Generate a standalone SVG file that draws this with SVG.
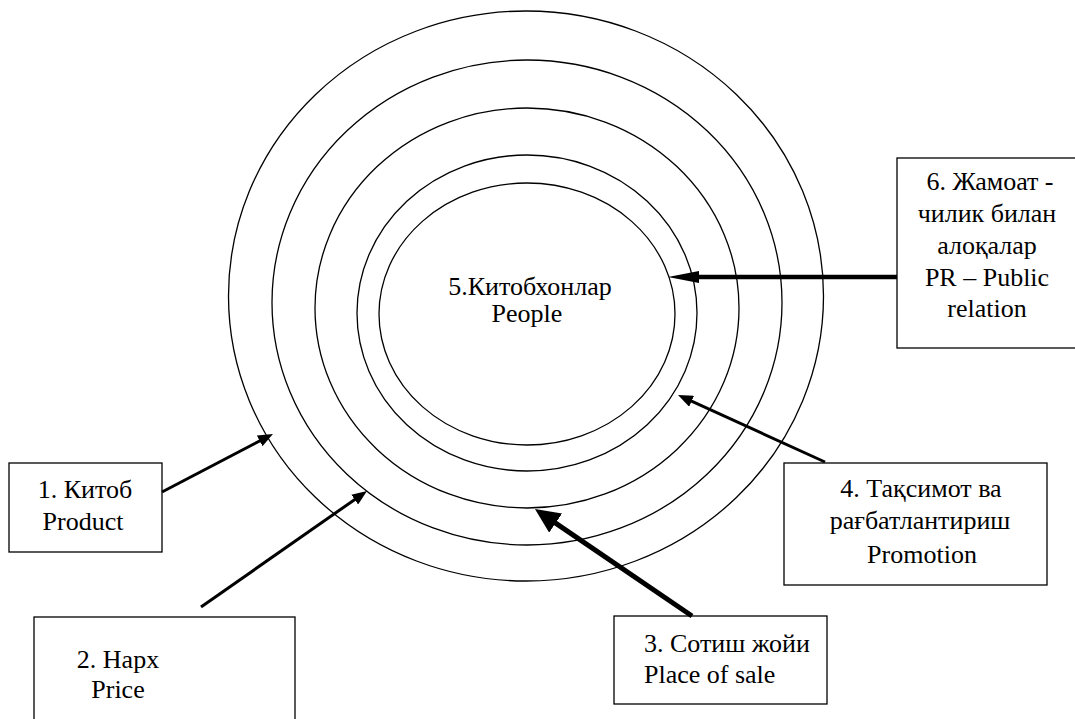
<svg xmlns="http://www.w3.org/2000/svg" width="1075" height="719" viewBox="0 0 1075 719">
<style>
.ring{fill:none;stroke:#000;stroke-width:1.3}
.box{fill:#fff;stroke:#000;stroke-width:1.3}
text{font-family:'Times New Roman','Liberation Serif',Tinos,'DejaVu Serif',serif;font-size:26px;fill:#000}
.c{text-anchor:middle}
.arr{stroke:#000;fill:none}
</style>
<defs>
<marker id="head" markerUnits="userSpaceOnUse" viewBox="0 0 15 12" markerWidth="15" markerHeight="12" refX="5" refY="6" orient="auto"><path d="M0,0 L15,6 L0,12 z" fill="#000"/></marker>
<marker id="headBig" markerUnits="userSpaceOnUse" viewBox="0 0 25 23" markerWidth="25" markerHeight="23" refX="8" refY="11.5" orient="auto"><path d="M0,0 L25,11.5 L0,23 z" fill="#000"/></marker>
<marker id="headLong" markerUnits="userSpaceOnUse" viewBox="0 0 31 12" markerWidth="31" markerHeight="12" refX="11" refY="6" orient="auto"><path d="M0,0 L31,6 L0,12 z" fill="#000"/></marker>
</defs>
<rect width="1075" height="719" fill="#fff"/>
<g id="rings">
<ellipse class="ring" cx="526" cy="296" rx="297.5" ry="285"/>
<ellipse class="ring" cx="527" cy="302.5" rx="255" ry="242.5"/>
<ellipse class="ring" cx="527" cy="308" rx="212" ry="200"/>
<ellipse class="ring" cx="527" cy="313" rx="170" ry="158"/>
<ellipse class="ring" cx="527" cy="314" rx="148" ry="131"/>
</g>
<g id="node5">
<text class="c" x="530" y="295">5.Китобхонлар</text>
<text class="c" x="527" y="322">People</text>
</g>
<g id="node1">
<rect class="box" x="9" y="463" width="153" height="89"/>
<text class="c" x="85" y="498">1. Китоб</text>
<text class="c" x="83" y="530">Product</text>
</g>
<g id="node2">
<rect class="box" x="34" y="617" width="261" height="120"/>
<text class="c" x="118" y="668">2. Нарх</text>
<text class="c" x="118" y="698">Price</text>
</g>
<g id="node3">
<rect class="box" x="614" y="616" width="213" height="88"/>
<text x="644" y="652">3. Сотиш жойи</text>
<text x="644" y="682.5">Place of sale</text>
</g>
<g id="node4">
<rect class="box" x="784" y="463" width="263" height="122"/>
<text class="c" x="921" y="497">4. Тақсимот ва</text>
<text class="c" x="920" y="529">рағбатлантириш</text>
<text class="c" x="922" y="563">Promotion</text>
</g>
<g id="node6">
<rect class="box" x="897" y="158" width="190" height="190"/>
<text class="c" x="990" y="190">6. Жамоат -</text>
<text class="c" x="987" y="222">чилик билан</text>
<text class="c" x="987" y="254">алоқалар</text>
<text class="c" x="987" y="286">PR – Public</text>
<text class="c" x="987" y="317">relation</text>
</g>
<g id="connectors">
<line class="arr" x1="162" y1="492" x2="264.1" y2="438.6" stroke-width="3" marker-end="url(#head)"/>
<line class="arr" x1="201" y1="607" x2="358.8" y2="496.7" stroke-width="3" marker-end="url(#head)"/>
<line class="arr" x1="692" y1="616" x2="549" y2="518.6" stroke-width="5" marker-end="url(#headBig)"/>
<line class="arr" x1="825" y1="462" x2="687.1" y2="399.2" stroke-width="3" marker-end="url(#head)"/>
<line class="arr" x1="897" y1="277" x2="688" y2="277" stroke-width="4.5" marker-end="url(#headLong)"/>
</g>
</svg>
